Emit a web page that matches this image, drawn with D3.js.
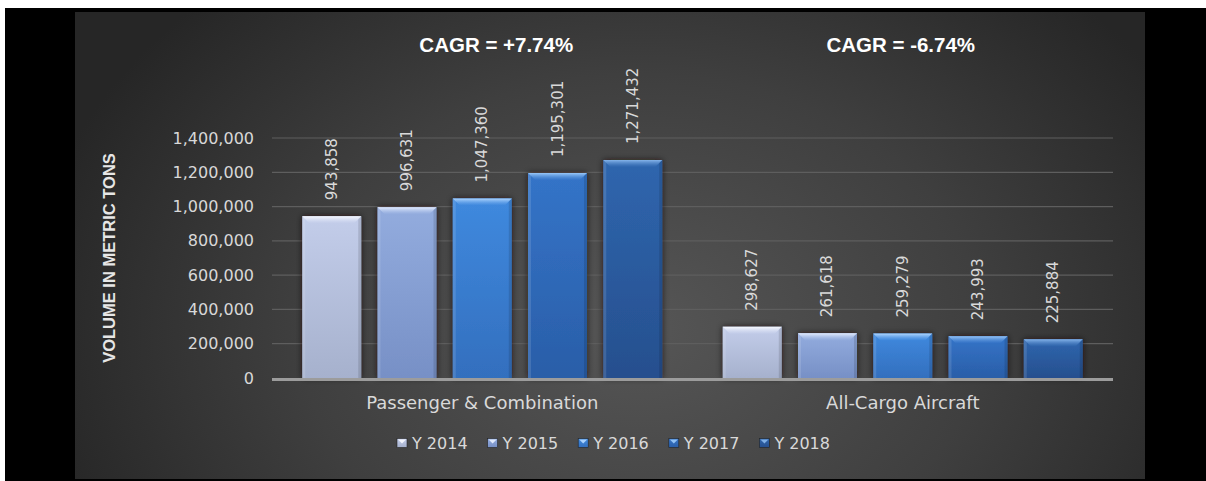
<!DOCTYPE html>
<html>
<head>
<meta charset="utf-8">
<script src="https://cdn.jsdelivr.net/npm/d3@7"></script>
<style>
  html, body { margin: 0; padding: 0; background: #ffffff; }
  svg { display: block; }
</style>
</head>
<body>
<svg id="chart" width="1206" height="481"></svg>
<script>
// Air cargo volume by carrier type, 2014–2018
const categories = ["Passenger & Combination", "All-Cargo Aircraft"];
const years = ["Y 2014", "Y 2015", "Y 2016", "Y 2017", "Y 2018"];
const passengerValues = [943858, 996631, 1047360, 1195301, 1271432];
const cargoValues = [298627, 261618, 259279, 243993, 225884];
const cagrLabels = ["CAGR = +7.74%", "CAGR = -6.74%"];
const yTicks = [0, 200000, 400000, 600000, 800000, 1000000, 1200000, 1400000];
const yTitle = "VOLUME IN METRIC TONS";

const seriesValues = [passengerValues, cargoValues];

// bar fill per year: [top, bottom, highlight]
const yearColors = [
  ["#c3cdea", "#a6b1cd", "#f7f9ff"],
  ["#93acde", "#7790c6", "#e6eeff"],
  ["#3f89de", "#336fbe", "#b0d6ff"],
  ["#3474c8", "#2a5ea8", "#97c6f8"],
  ["#2f66ae", "#264f8e", "#85b4ea"]
];

const svg = d3.select("#chart");
const defs = svg.append("defs");

// frame and panel background
svg.append("rect").attr("x", 5).attr("y", 8).attr("width", 1201).attr("height", 473).attr("fill", "#000");

const bg = defs.append("radialGradient").attr("id", "bgGrad")
  .attr("gradientUnits", "userSpaceOnUse")
  .attr("cx", 640).attr("cy", 330).attr("r", 620)
  .attr("gradientTransform", "translate(640,330) scale(1,0.75) translate(-640,-330)");
bg.append("stop").attr("offset", "0%").attr("stop-color", "#565656");
bg.append("stop").attr("offset", "55%").attr("stop-color", "#3f3f3f");
bg.append("stop").attr("offset", "100%").attr("stop-color", "#262626");
svg.append("rect").attr("x", 75).attr("y", 12).attr("width", 1070).attr("height", 467).attr("fill", "url(#bgGrad)");

// bar gradients
yearColors.forEach((c, i) => {
  const g = defs.append("linearGradient").attr("id", "barGrad" + i)
    .attr("x1", 0).attr("y1", 0).attr("x2", 0).attr("y2", 1);
  g.append("stop").attr("offset", "0%").attr("stop-color", c[0]);
  g.append("stop").attr("offset", "100%").attr("stop-color", c[1]);
  const h = defs.append("linearGradient").attr("id", "hiGrad" + i)
    .attr("x1", 0).attr("y1", 0).attr("x2", 0).attr("y2", 1);
  h.append("stop").attr("offset", "0%").attr("stop-color", c[2]).attr("stop-opacity", 1);
  h.append("stop").attr("offset", "100%").attr("stop-color", c[0]).attr("stop-opacity", 0.5);
});

const shadow = defs.append("filter").attr("id", "barShadow")
  .attr("x", "-30%").attr("y", "-30%").attr("width", "160%").attr("height", "160%");
shadow.append("feGaussianBlur").attr("in", "SourceAlpha").attr("stdDeviation", 3).attr("result", "b");
shadow.append("feFlood").attr("flood-color", "#1a1208").attr("flood-opacity", 0.75);
shadow.append("feComposite").attr("in2", "b").attr("operator", "in").attr("result", "s");
const merge = shadow.append("feMerge");
merge.append("feMergeNode").attr("in", "s");
merge.append("feMergeNode").attr("in", "SourceGraphic");

// scales
const x0 = d3.scaleBand().domain(categories).range([272, 1113]).padding(0);
const x1 = d3.scaleBand().domain(years).range([30.25, 390.25]).paddingInner(0.216).paddingOuter(0);
const y = d3.scaleLinear().domain([0, 1400000]).range([378, 138]);

// gridlines
svg.append("g").selectAll("line").data(yTicks.filter(d => d > 0)).join("line")
  .attr("x1", 272).attr("x2", 1113)
  .attr("y1", d => y(d)).attr("y2", d => y(d))
  .attr("stroke", "#5e5e5e").attr("stroke-width", 1.2);

// y axis labels
const yAxis = d3.axisLeft(y).tickValues(yTicks).tickFormat(d3.format(",")).tickSize(0).tickPadding(0);
const yAxisG = svg.append("g").attr("transform", "translate(254,0)").call(yAxis);
yAxisG.select(".domain").remove();
yAxisG.selectAll("text")
  .attr("fill", "#d8d8d8")
  .style("font-family", "'DejaVu Sans', sans-serif")
  .style("font-size", "16px");

// y axis title
svg.append("text")
  .attr("transform", `translate(109,${(y(0) + y(1400000)) / 2}) rotate(-90)`)
  .attr("text-anchor", "middle").attr("dominant-baseline", "central")
  .attr("fill", "#e6e6e6")
  .style("font-family", "'Liberation Sans', Arial, sans-serif")
  .style("font-weight", "bold").style("font-size", "16.5px")
  .text(yTitle);

// bars
const rows = categories.map((cat, ci) => years.map((yr, yi) => ({ cat, yr, yi, value: seriesValues[ci][yi] })));
const groups = svg.append("g").selectAll("g").data(rows).join("g")
  .attr("transform", (d, i) => `translate(${x0(categories[i])},0)`);

const bars = groups.selectAll("g.bar").data(d => d).join("g").attr("class", "bar");

bars.append("rect")
  .attr("x", d => x1(d.yr)).attr("width", x1.bandwidth())
  .attr("y", d => y(d.value)).attr("height", d => y(0) - y(d.value))
  .attr("fill", d => `url(#barGrad${d.yi})`)
  .attr("filter", "url(#barShadow)");

// bevel: side edges
bars.append("rect")
  .attr("x", d => x1(d.yr)).attr("width", 3)
  .attr("y", d => y(d.value)).attr("height", d => y(0) - y(d.value))
  .attr("fill", "#ffffff").attr("opacity", 0.12);
bars.append("rect")
  .attr("x", d => x1(d.yr) + x1.bandwidth() - 3).attr("width", 3)
  .attr("y", d => y(d.value)).attr("height", d => y(0) - y(d.value))
  .attr("fill", "#000000").attr("opacity", 0.12);

// bevel: top highlight
bars.append("path")
  .attr("d", d => {
    const l = x1(d.yr), r = l + x1.bandwidth(), t = y(d.value), h = 7;
    return `M${l},${t}L${r},${t}L${r - 7},${t + h}L${l + 7},${t + h}Z`;
  })
  .attr("fill", d => `url(#hiGrad${d.yi})`);

// value labels
bars.append("text")
  .attr("transform", d => `translate(${x1(d.yr) + x1.bandwidth() / 2},${y(d.value) - 16}) rotate(-90)`)
  .attr("text-anchor", "start").attr("dominant-baseline", "central")
  .attr("fill", "#d9d9d9")
  .style("font-family", "'DejaVu Sans', sans-serif").style("font-size", "15px")
  .text(d => d3.format(",")(d.value));

// baseline
svg.append("line")
  .attr("x1", 272).attr("x2", 1113).attr("y1", y(0) + 1.5).attr("y2", y(0) + 1.5)
  .attr("stroke", "#9c9c9c").attr("stroke-width", 3);

// category labels
const xAxis = d3.axisBottom(x0).tickSize(0).tickPadding(0);
const xAxisG = svg.append("g").attr("transform", `translate(0,${y(0) + 18})`).call(xAxis);
xAxisG.select(".domain").remove();
xAxisG.selectAll("text")
  .attr("fill", "#d9d9d9")
  .attr("dy", "0.71em")
  .style("font-family", "'DejaVu Sans', sans-serif").style("font-size", "18px");

// CAGR annotations
const cagrOffsets = [14, -2];
svg.append("g").selectAll("text").data(cagrLabels).join("text")
  .attr("x", (d, i) => x0(categories[i]) + x0.bandwidth() / 2 + cagrOffsets[i])
  .attr("y", 44)
  .attr("text-anchor", "middle").attr("dominant-baseline", "central")
  .attr("fill", "#ffffff")
  .style("font-family", "'Liberation Sans', Arial, sans-serif")
  .style("font-weight", "bold").style("font-size", "20.5px")
  .text(d => d);

// legend
const legend = svg.append("g").selectAll("g").data(years).join("g")
  .attr("transform", (d, i) => `translate(${397 + i * 90.6},443)`);
legend.append("rect")
  .attr("x", 0).attr("y", -4.5).attr("width", 10).attr("height", 9)
  .attr("fill", (d, i) => `url(#barGrad${i})`)
  .attr("stroke", "#222").attr("stroke-width", 0.6);
legend.append("path")
  .attr("d", "M1,-3.5L9,-3.5L5,0.5Z")
  .attr("fill", (d, i) => yearColors[i][2]).attr("opacity", 0.95);
legend.append("text")
  .attr("x", 15).attr("y", 0)
  .attr("dominant-baseline", "central")
  .attr("fill", "#d9d9d9")
  .style("font-family", "'DejaVu Sans', sans-serif").style("font-size", "16px")
  .text(d => d);
</script>
</body>
</html>
